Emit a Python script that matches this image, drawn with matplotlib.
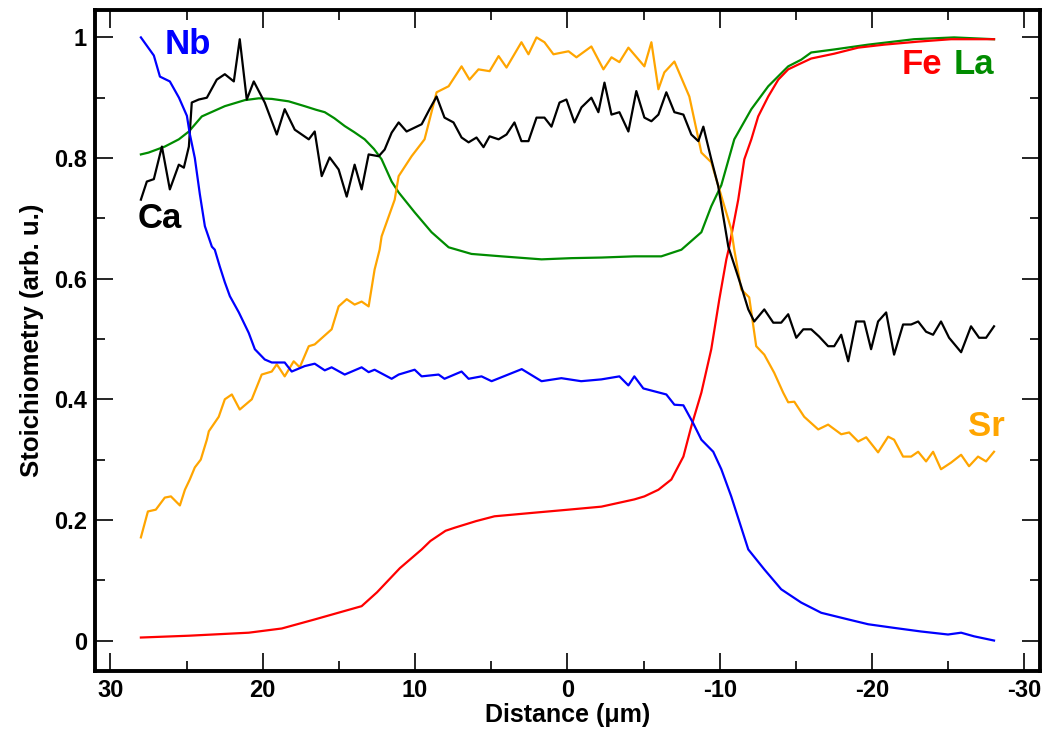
import matplotlib
matplotlib.use('Agg')
import matplotlib.pyplot as plt
import matplotlib.ticker as ticker

plt.rcParams['font.family'] = ['Liberation Sans', 'DejaVu Sans']
plt.rcParams['font.weight'] = 'bold'
plt.rcParams['axes.unicode_minus'] = False

# Data (distance in um, stoichiometry arb. u.)
nb_x = [28.0, 27.15, 26.75, 26.1, 25.5, 24.98, 24.79, 24.46, 24.13, 23.8, 23.34, 23.15, 22.82,
        22.49, 22.16, 21.57, 20.92, 20.52, 19.87, 19.41, 18.56, 18.1, 17.25, 16.59, 15.93, 15.48,
        14.62, 13.51, 13.05, 12.66, 11.54, 11.08, 10.03, 9.57, 8.46, 8.07, 6.95, 6.49, 5.64, 4.98,
        3.0, 1.7, 0.4, -0.9, -2.23, -3.41, -4.0, -4.39, -4.98, -6.49, -7.02, -7.61, -8.26, -8.79,
        -9.57, -10.1, -10.75, -11.87, -12.92, -14.03, -15.34, -16.66, -18.43, -19.74, -21.44,
        -23.21, -24.98, -25.84, -26.69, -28.0]
nb_y = [1.0, 0.97, 0.935, 0.927, 0.90, 0.87, 0.84, 0.80, 0.74, 0.687, 0.653, 0.648, 0.62,
        0.594, 0.571, 0.544, 0.51, 0.483, 0.466, 0.461, 0.461, 0.446, 0.455, 0.459, 0.448, 0.453,
        0.441, 0.453, 0.445, 0.449, 0.434, 0.441, 0.449, 0.438, 0.441, 0.434, 0.446, 0.434, 0.438,
        0.43, 0.45, 0.43, 0.435, 0.43, 0.433, 0.438, 0.423, 0.438, 0.418, 0.408, 0.391, 0.39,
        0.36, 0.333, 0.313, 0.284, 0.239, 0.151, 0.118, 0.085, 0.063, 0.046, 0.035, 0.027, 0.021,
        0.015, 0.010, 0.013, 0.007, 0.0]

fe_x = [28.0, 24.85, 20.92, 18.75, 16.59, 13.51, 12.5, 11.0, 9.57, 9.0, 8.0, 7.41, 6.0, 4.79,
        2.16, -0.07, -2.23, -4.39, -5.05, -5.97, -6.82, -7.61, -8.13, -8.79, -9.44, -9.97,
        -10.43, -10.62, -11.21, -11.61, -12.07, -12.52, -13.18, -13.84, -14.49, -15.15, -16.0,
        -17.51, -19.08, -20.79, -23.02, -25.18, -28.0]
fe_y = [0.005, 0.008, 0.013, 0.02, 0.035, 0.057, 0.08, 0.12, 0.151, 0.165, 0.182, 0.187, 0.198,
        0.206, 0.212, 0.217, 0.222, 0.234, 0.239, 0.25, 0.267, 0.305, 0.355, 0.411, 0.483, 0.566,
        0.632, 0.653, 0.731, 0.798, 0.831, 0.869, 0.902, 0.93, 0.947, 0.955, 0.965,
        0.973, 0.983, 0.988, 0.993, 0.997, 0.997]

la_x = [28.0, 27.5, 26.43, 25.51, 24.85, 24.0, 22.49, 21.18, 20.26, 19.4, 18.3, 17.25, 16.5,
        15.93, 15.3, 14.62, 14.0, 13.31, 12.7, 12.2, 11.54, 11.08, 10.03, 8.92, 7.8, 6.3, 4.33,
        1.7, -0.26, -2.23, -4.39, -6.16, -7.48, -8.79, -9.44, -10.1, -10.95, -12.07, -13.18,
        -14.49, -15.34, -16.0, -17.51, -19.74, -22.75, -25.38, -28.0]
la_y = [0.806, 0.809, 0.819, 0.831, 0.844, 0.869, 0.886, 0.896, 0.899, 0.898, 0.894, 0.886, 0.88,
        0.876, 0.866, 0.853, 0.843, 0.831, 0.815, 0.798, 0.761, 0.743, 0.71, 0.677, 0.652, 0.641,
        0.637, 0.632, 0.634, 0.635, 0.637, 0.637, 0.648, 0.677, 0.72, 0.755, 0.831, 0.881, 0.919,
        0.952, 0.963, 0.975, 0.98, 0.988, 0.997, 1.0, 0.997]

sr_x = [28.0, 27.54, 27.02, 26.43, 26.03, 25.44, 25.11, 24.79, 24.46, 24.07, 23.67, 23.54, 22.89,
        22.49, 22.03, 21.51, 20.72, 20.07, 19.41, 19.08, 18.56, 17.97, 17.57, 16.98, 16.59, 15.48,
        15.02, 14.49, 13.97, 13.51, 13.05, 12.66, 12.33, 12.2, 11.34, 11.08, 10.23, 9.38, 8.59,
        7.8, 6.95, 6.43, 5.84, 5.11, 4.52, 4.0, 3.02, 2.56, 2.03, 1.51, 0.92, -0.07, -0.59,
        -1.57, -2.36, -2.89, -3.41, -4.0, -5.05, -5.51, -5.97, -6.36, -7.02, -8.0, -8.79, -9.44,
        -10.75, -10.95, -11.41, -11.93, -12.39, -12.92, -13.57, -14.16, -14.49, -14.89, -15.54,
        -16.46, -17.11, -17.97, -18.49, -19.08, -19.61, -20.39, -21.05, -21.44, -22.03, -22.56,
        -23.02, -23.54, -24.0, -24.52, -25.18, -25.84, -26.36, -26.95, -27.48, -28.0]
sr_y = [0.171, 0.214, 0.217, 0.237, 0.239, 0.224, 0.25, 0.267, 0.287, 0.30, 0.333, 0.347, 0.371,
        0.4, 0.408, 0.383, 0.4, 0.441, 0.446, 0.458, 0.438, 0.463, 0.453, 0.488, 0.491, 0.516,
        0.554, 0.566, 0.557, 0.562, 0.554, 0.615, 0.648, 0.67, 0.731, 0.77, 0.803, 0.831, 0.909,
        0.919, 0.952, 0.93, 0.947, 0.944, 0.969, 0.95, 0.992, 0.972, 1.0, 0.992, 0.972, 0.977,
        0.967, 0.985, 0.947, 0.967, 0.959, 0.983, 0.952, 0.992, 0.914, 0.942, 0.96, 0.902, 0.809,
        0.793, 0.682, 0.648, 0.582, 0.569, 0.488, 0.474, 0.444, 0.411, 0.395, 0.396, 0.371,
        0.35, 0.358, 0.342, 0.345, 0.33, 0.337, 0.312, 0.338, 0.333, 0.305, 0.305,
        0.313, 0.297, 0.313, 0.284, 0.295, 0.308, 0.289, 0.305, 0.297, 0.313]

ca_x = [28.0, 27.61, 27.15, 26.62, 26.1, 25.51, 25.18, 24.85, 24.66, 24.2, 23.67, 23.02, 22.49,
        21.9, 21.51, 21.05, 20.59, 19.87, 19.08, 18.56, 17.9, 16.98, 16.59, 16.13, 15.61, 15.02,
        14.49, 13.97, 13.51, 13.05, 12.39, 12.0, 11.54, 11.08, 10.56, 9.57, 9.05, 8.59, 8.07, 7.48,
        6.95, 6.49, 5.97, 5.51, 5.11, 4.52, 4.0, 3.48, 3.02, 2.56, 2.03, 1.51, 1.05, 0.52, 0.07,
        -0.46, -0.92, -1.57, -2.03, -2.43, -2.89, -3.41, -4.0, -4.52, -5.05, -5.51, -5.97, -6.49,
        -7.02, -7.61, -8.13, -8.59, -8.92, -9.44, -9.9, -10.56, -11.41, -11.87, -12.26, -12.92,
        -13.51, -14.03, -14.49, -15.02, -15.48, -16.0, -16.52, -17.11, -17.51, -17.97, -18.43,
        -18.95, -19.48, -19.93, -20.39, -20.92, -21.44, -22.03, -22.56, -23.02, -23.54, -24.0,
        -24.52, -25.05, -25.84, -26.49, -27.02, -27.48, -28.0]
ca_y = [0.731, 0.761, 0.765, 0.819, 0.748, 0.789, 0.784, 0.819, 0.892, 0.897, 0.9, 0.93, 0.939,
        0.927, 0.997, 0.897, 0.927, 0.892, 0.839, 0.881, 0.847, 0.831, 0.844, 0.77, 0.801, 0.781,
        0.736, 0.789, 0.748, 0.806, 0.803, 0.814, 0.842, 0.859, 0.844, 0.856, 0.881, 0.902, 0.867,
        0.859, 0.834, 0.826, 0.834, 0.818, 0.836, 0.831, 0.839, 0.859, 0.828, 0.828, 0.867, 0.867,
        0.852, 0.892, 0.897, 0.859, 0.884, 0.9, 0.876, 0.925, 0.872, 0.876, 0.844, 0.911, 0.867,
        0.861, 0.872, 0.909, 0.876, 0.872, 0.839, 0.828, 0.852, 0.798, 0.753, 0.653, 0.587, 0.549,
        0.529, 0.549, 0.527, 0.527, 0.541, 0.502, 0.516, 0.516, 0.504, 0.488, 0.488, 0.507, 0.463,
        0.529, 0.529, 0.483, 0.529, 0.544, 0.474, 0.524, 0.524, 0.529, 0.512, 0.507, 0.529, 0.502,
        0.478, 0.521, 0.502, 0.502, 0.521]

# Create figure
fig = plt.figure(figsize=(10.46, 7.33), dpi=100)
ax = fig.add_subplot(111)
ax.plot(la_x, la_y, color='#008c00', linewidth=1.6)
ax.plot(fe_x, fe_y, color='#ff0000', linewidth=1.6)
ax.plot(sr_x, sr_y, color='#ffa500', linewidth=1.6)
ax.plot(ca_x, ca_y, color='black', linewidth=1.6)
ax.plot(nb_x, nb_y, color='#0000ff', linewidth=1.6)

lab = dict(fontsize=25, fontweight='bold', ha='center', va='center')
ax.text(24.9, 0.988, 'Nb', color='#0000ff', **lab)
ax.text(26.75, 0.70, 'Ca', color='black', **lab)
ax.text(-23.3, 0.955, 'Fe', color='#ff0000', **lab)
ax.text(-26.7, 0.955, 'La', color='#008c00', **lab)
ax.text(-27.5, 0.355, 'Sr', color='#ffa500', **lab)

ax.set_xlim(31, -31)
ax.set_ylim(-0.05, 1.045)
ax.xaxis.set_major_locator(ticker.MultipleLocator(10))
ax.xaxis.set_minor_locator(ticker.MultipleLocator(5))
ax.yaxis.set_major_locator(ticker.MultipleLocator(0.2))
ax.yaxis.set_minor_locator(ticker.MultipleLocator(0.1))
ax.yaxis.set_major_formatter(ticker.FuncFormatter(lambda v, p: '%g' % round(v, 2)))
ax.xaxis.set_major_formatter(ticker.FuncFormatter(lambda v, p: '%g' % round(v, 1)))

ax.tick_params(which='both', direction='in', top=True, right=True, width=1.2)
ax.tick_params(which='major', length=13, labelsize=17)
ax.tick_params(axis='y', which='major', pad=6)
ax.tick_params(axis='x', which='major', pad=6)
ax.tick_params(which='minor', length=7)
for s in ax.spines.values():
    s.set_linewidth(2.8)

ax.set_xlabel(u'Distance (\u03bcm)', fontsize=18, fontweight='bold', labelpad=1)
ax.set_ylabel('Stoichiometry (arb. u.)', fontsize=18.5, fontweight='bold', labelpad=7)

fig.subplots_adjust(left=0.091, right=0.994, top=0.986, bottom=0.085)
fig.savefig('out.png', dpi=100)
